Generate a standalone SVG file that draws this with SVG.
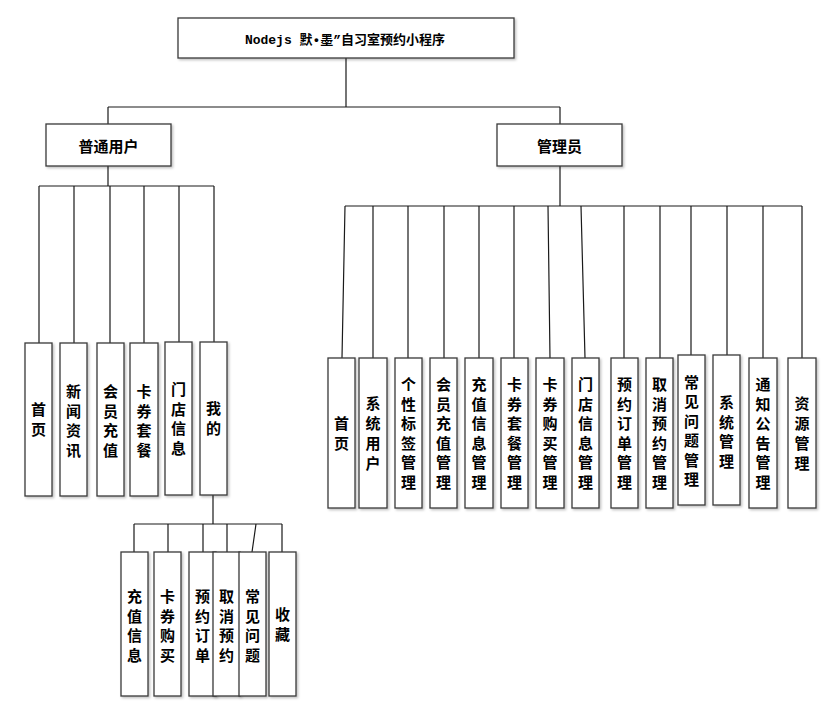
<svg xmlns="http://www.w3.org/2000/svg" width="831" height="706" viewBox="0 0 831 706">
<defs>
<filter id="sh" x="-20%" y="-20%" width="140%" height="140%">
<feDropShadow dx="1.5" dy="1.5" stdDeviation="0.8" flood-color="#000" flood-opacity="0.25"/>
</filter>
</defs>
<style>
.box{fill:#fff;stroke:#3a3a3a;stroke-width:1.3;filter:url(#sh)}
.ln{fill:none;stroke:#1a1a1a;stroke-width:1.2}
.t{font-family:"Noto Sans CJK SC","Liberation Sans",sans-serif;font-weight:bold;font-size:15px;fill:#000;text-anchor:middle;dominant-baseline:central}
.title{font-family:"Liberation Mono","Noto Sans CJK SC",monospace;font-weight:bold;font-size:13px;fill:#000;text-anchor:middle;dominant-baseline:central}
</style>
<rect width="831" height="706" fill="#fff"/>

<g id="connectors" class="ln">
<path d="M346 58V107M108 107H560M108 107V124M560 107V124"/>
<path d="M108 166V186M39 186H214M39 186V343M74 186V343M110 186V343M144 186V343M179 186V342M214 186V342"/>
<path d="M213 495V524M134 524H282M134 524V552M168 524V552M203 524V552M227 524V552M256 524L252 552M282 524V552"/>
<path d="M560 166V206M345 206H802"/>
<path d="M345 206L342 358M373 206V358M408 206V358M444 206V358M479 206V358M514 206V358M548 206L550 358M581 206L585 358M624 206V358M660 206V358M691 206V355M727 206V355M763 206V358M802 206V358"/>
</g>

<g id="root"><rect class="box" x="178" y="18" width="336" height="40"/><text class="title" x="345" y="40">Nodejs 默•墨”自习室预约小程序</text></g>

<g id="user"><rect class="box" x="46" y="124" width="125" height="42"/><text class="t" x="108.5" y="145">普通用户</text></g>
<g id="admin"><rect class="box" x="497" y="124" width="125" height="42"/><text class="t" x="559.5" y="145">管理员</text></g>

<g id="u-home"><rect class="box" x="25" y="343" width="27" height="153"/><text class="t"><tspan x="38.5" y="408">首</tspan><tspan x="38.5" y="428">页</tspan></text></g>
<g id="u-news"><rect class="box" x="60" y="343" width="27" height="153"/><text class="t"><tspan x="73.5" y="390">新</tspan><tspan x="73.5" y="409.5">闻</tspan><tspan x="73.5" y="429">资</tspan><tspan x="73.5" y="448.5">讯</tspan></text></g>
<g id="u-member"><rect class="box" x="97" y="343" width="27" height="153"/><text class="t"><tspan x="110.5" y="390">会</tspan><tspan x="110.5" y="409.5">员</tspan><tspan x="110.5" y="429">充</tspan><tspan x="110.5" y="448.5">值</tspan></text></g>
<g id="u-card"><rect class="box" x="130" y="343" width="28" height="153"/><text class="t"><tspan x="144" y="390">卡</tspan><tspan x="144" y="409.5">券</tspan><tspan x="144" y="429">套</tspan><tspan x="144" y="448.5">餐</tspan></text></g>
<g id="u-store"><rect class="box" x="165" y="342" width="27" height="153"/><text class="t"><tspan x="178.5" y="388">门</tspan><tspan x="178.5" y="407.5">店</tspan><tspan x="178.5" y="427">信</tspan><tspan x="178.5" y="446.5">息</tspan></text></g>
<g id="u-mine"><rect class="box" x="200" y="342" width="27" height="153"/><text class="t"><tspan x="213.5" y="407">我</tspan><tspan x="213.5" y="427">的</tspan></text></g>

<g id="m-recharge"><rect class="box" x="121" y="552" width="27" height="144"/><text class="t"><tspan x="134.5" y="595">充</tspan><tspan x="134.5" y="614.5">值</tspan><tspan x="134.5" y="634">信</tspan><tspan x="134.5" y="653.5">息</tspan></text></g>
<g id="m-buy"><rect class="box" x="154" y="552" width="27" height="144"/><text class="t"><tspan x="167.5" y="595">卡</tspan><tspan x="167.5" y="614.5">券</tspan><tspan x="167.5" y="634">购</tspan><tspan x="167.5" y="653.5">买</tspan></text></g>
<g id="m-order"><rect class="box" x="189" y="552" width="27" height="144"/><text class="t"><tspan x="202.5" y="595">预</tspan><tspan x="202.5" y="614.5">约</tspan><tspan x="202.5" y="634">订</tspan><tspan x="202.5" y="653.5">单</tspan></text></g>
<g id="m-cancel"><rect class="box" x="213" y="552" width="27" height="144"/><text class="t"><tspan x="226.5" y="595">取</tspan><tspan x="226.5" y="614.5">消</tspan><tspan x="226.5" y="634">预</tspan><tspan x="226.5" y="653.5">约</tspan></text></g>
<g id="m-faq"><rect class="box" x="239" y="552" width="27" height="144"/><text class="t"><tspan x="252.5" y="595">常</tspan><tspan x="252.5" y="614.5">见</tspan><tspan x="252.5" y="634">问</tspan><tspan x="252.5" y="653.5">题</tspan></text></g>
<g id="m-fav"><rect class="box" x="269" y="552" width="27" height="144"/><text class="t"><tspan x="282.5" y="613">收</tspan><tspan x="282.5" y="633">藏</tspan></text></g>

<g id="a-home"><rect class="box" x="328" y="358" width="27" height="150"/><text class="t"><tspan x="341.5" y="422">首</tspan><tspan x="341.5" y="442">页</tspan></text></g>
<g id="a-sysuser"><rect class="box" x="359" y="358" width="28" height="150"/><text class="t"><tspan x="373" y="402">系</tspan><tspan x="373" y="422">统</tspan><tspan x="373" y="442">用</tspan><tspan x="373" y="462">户</tspan></text></g>
<g id="a-tag"><rect class="box" x="395" y="358" width="27" height="150"/><text class="t"><tspan x="408.5" y="383">个</tspan><tspan x="408.5" y="402.6">性</tspan><tspan x="408.5" y="422.2">标</tspan><tspan x="408.5" y="441.8">签</tspan><tspan x="408.5" y="461.4">管</tspan><tspan x="408.5" y="481">理</tspan></text></g>
<g id="a-member"><rect class="box" x="430" y="358" width="27" height="150"/><text class="t"><tspan x="443.5" y="383">会</tspan><tspan x="443.5" y="402.6">员</tspan><tspan x="443.5" y="422.2">充</tspan><tspan x="443.5" y="441.8">值</tspan><tspan x="443.5" y="461.4">管</tspan><tspan x="443.5" y="481">理</tspan></text></g>
<g id="a-recharge"><rect class="box" x="465" y="358" width="28" height="150"/><text class="t"><tspan x="479" y="383">充</tspan><tspan x="479" y="402.6">值</tspan><tspan x="479" y="422.2">信</tspan><tspan x="479" y="441.8">息</tspan><tspan x="479" y="461.4">管</tspan><tspan x="479" y="481">理</tspan></text></g>
<g id="a-card"><rect class="box" x="501" y="358" width="27" height="150"/><text class="t"><tspan x="514.5" y="383">卡</tspan><tspan x="514.5" y="402.6">券</tspan><tspan x="514.5" y="422.2">套</tspan><tspan x="514.5" y="441.8">餐</tspan><tspan x="514.5" y="461.4">管</tspan><tspan x="514.5" y="481">理</tspan></text></g>
<g id="a-buy"><rect class="box" x="536" y="358" width="28" height="150"/><text class="t"><tspan x="550" y="383">卡</tspan><tspan x="550" y="402.6">券</tspan><tspan x="550" y="422.2">购</tspan><tspan x="550" y="441.8">买</tspan><tspan x="550" y="461.4">管</tspan><tspan x="550" y="481">理</tspan></text></g>
<g id="a-store"><rect class="box" x="572" y="358" width="27" height="150"/><text class="t"><tspan x="585.5" y="383">门</tspan><tspan x="585.5" y="402.6">店</tspan><tspan x="585.5" y="422.2">信</tspan><tspan x="585.5" y="441.8">息</tspan><tspan x="585.5" y="461.4">管</tspan><tspan x="585.5" y="481">理</tspan></text></g>
<g id="a-order"><rect class="box" x="611" y="358" width="27" height="150"/><text class="t"><tspan x="624.5" y="383">预</tspan><tspan x="624.5" y="402.6">约</tspan><tspan x="624.5" y="422.2">订</tspan><tspan x="624.5" y="441.8">单</tspan><tspan x="624.5" y="461.4">管</tspan><tspan x="624.5" y="481">理</tspan></text></g>
<g id="a-cancel"><rect class="box" x="646" y="358" width="27" height="150"/><text class="t"><tspan x="659.5" y="383">取</tspan><tspan x="659.5" y="402.6">消</tspan><tspan x="659.5" y="422.2">预</tspan><tspan x="659.5" y="441.8">约</tspan><tspan x="659.5" y="461.4">管</tspan><tspan x="659.5" y="481">理</tspan></text></g>
<g id="a-faq"><rect class="box" x="678" y="355" width="27" height="150"/><text class="t"><tspan x="691.5" y="381">常</tspan><tspan x="691.5" y="400.4">见</tspan><tspan x="691.5" y="419.8">问</tspan><tspan x="691.5" y="439.2">题</tspan><tspan x="691.5" y="458.6">管</tspan><tspan x="691.5" y="478">理</tspan></text></g>
<g id="a-sys"><rect class="box" x="713" y="355" width="27" height="150"/><text class="t"><tspan x="726.5" y="401">系</tspan><tspan x="726.5" y="420.5">统</tspan><tspan x="726.5" y="440">管</tspan><tspan x="726.5" y="459.5">理</tspan></text></g>
<g id="a-notice"><rect class="box" x="749" y="358" width="28" height="150"/><text class="t"><tspan x="763" y="383">通</tspan><tspan x="763" y="402.6">知</tspan><tspan x="763" y="422.2">公</tspan><tspan x="763" y="441.8">告</tspan><tspan x="763" y="461.4">管</tspan><tspan x="763" y="481">理</tspan></text></g>
<g id="a-res"><rect class="box" x="788" y="358" width="28" height="150"/><text class="t"><tspan x="802" y="402">资</tspan><tspan x="802" y="422">源</tspan><tspan x="802" y="442">管</tspan><tspan x="802" y="462">理</tspan></text></g>
</svg>
